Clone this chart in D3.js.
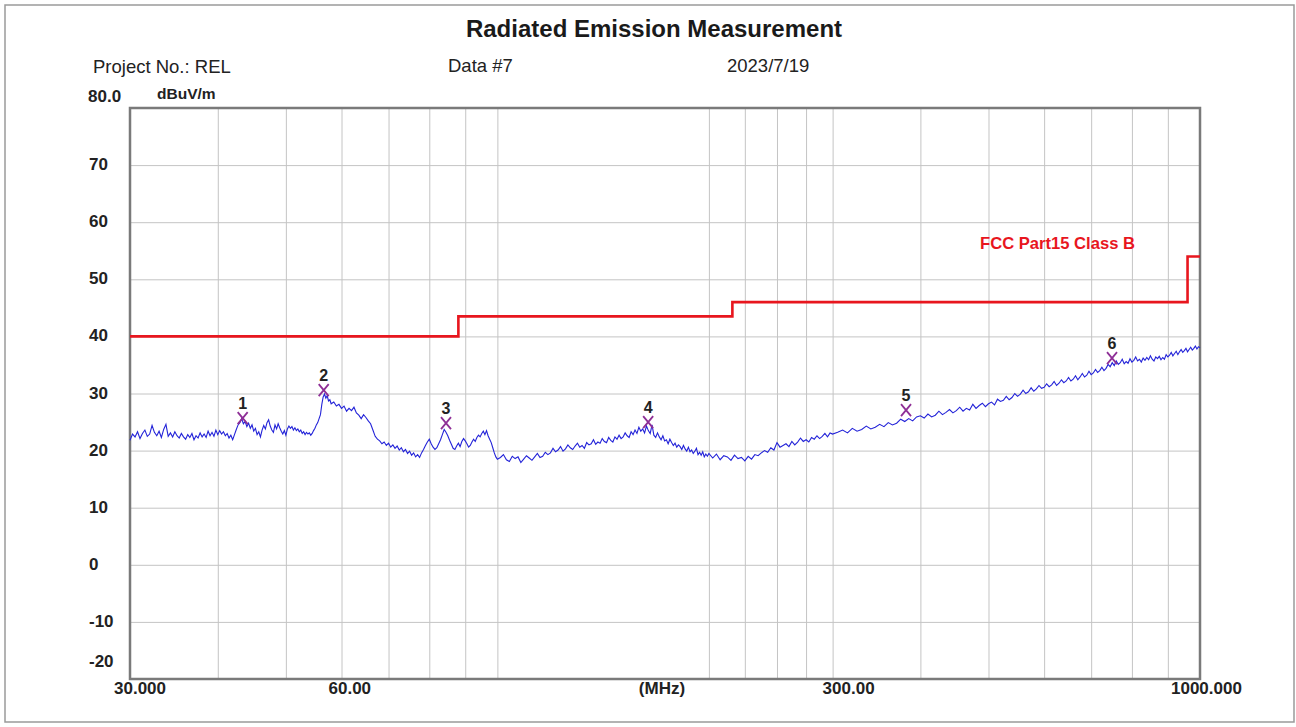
<!DOCTYPE html>
<html>
<head>
<meta charset="utf-8">
<script src="https://cdn.jsdelivr.net/npm/d3@7/dist/d3.min.js"></script>
<style>
html,body{margin:0;padding:0;background:#fff;}
svg{display:block;font-family:"Liberation Sans",Arial,sans-serif;}
</style>
</head>
<body>
<svg id="chart" width="1296" height="727"></svg>
<script>
// ---- data ----
const xTickLabels = [30, 60, 300, 1000];
const xTickText = ["30.000", "60.00", "300.00", "1000.000"];
const xGridValues = [40, 50, 60, 70, 80, 90, 100, 200, 225, 250, 275, 300, 400, 500, 600, 700, 800, 900];
const yTickValues = [70, 60, 50, 40, 30, 20, 10, 0, -10];
const yGridValues = [70, 60, 50, 40, 30, 20, 10, 0, -10];

const limitFreq = [30, 88, 216, 960, 1000];
const limitLevel = [40, 43.5, 46, 54, 54];

const markerFreq = [43.4, 56.6, 84.5, 163.9, 381.6, 749.5];
const markerLevel = [25.7, 30.6, 24.8, 25.0, 27.1, 36.2];
const markerLabel = ["1", "2", "3", "4", "5", "6"];

// measured trace [MHz, dBuV/m]
const trace = [
[30,21.8],[30.25,22.9],[30.5,22.4],[30.75,23.3],[31,22.1],[31.25,23.0],[31.5,23.6],[31.75,22.5],[32,22.9],[32.25,24.4],
[32.5,23.2],[32.75,22.6],[33,23.4],[33.25,22.3],[33.5,23.7],[33.75,24.6],[34,22.5],[34.25,23.1],[34.5,22.4],[34.75,23.3],
[35,22.6],[35.25,22.2],[35.5,23.0],[35.75,22.4],[36,22.0],[36.25,22.8],[36.5,22.3],[36.75,23.0],[37,21.9],[37.25,22.6],
[37.5,22.2],[37.75,23.1],[38,22.4],[38.25,22.9],[38.5,22.3],[38.75,23.4],[39,22.6],[39.25,23.2],[39.5,22.5],[39.75,23.6],
[40,22.8],[40.25,23.5],[40.5,22.9],[40.75,23.3],[41,22.6],[41.25,23.0],[41.5,22.2],[41.75,22.7],[42,21.9],[42.25,22.8],
[42.5,23.7],[42.75,24.5],[43,24.9],[43.25,25.6],[43.5,24.7],[43.75,25.1],[44,24.2],[44.25,24.8],[44.5,23.9],[44.75,24.5],
[45,23.4],[45.25,23.9],[45.5,22.8],[45.75,23.3],[46,22.4],[46.25,23.6],[46.5,24.4],[46.75,23.8],[47,24.9],[47.25,25.4],
[47.5,24.3],[47.75,23.6],[48,23.2],[48.25,24.5],[48.5,23.8],[48.75,24.7],[49,24.0],[49.25,23.4],[49.5,22.9],[49.75,23.5],
[50,22.7],[50.25,23.8],[50.5,24.3],[50.75,23.9],[51,24.2],[51.25,23.6],[51.5,24.0],[51.75,23.5],[52,23.8],[52.25,23.3],
[52.5,23.6],[52.75,23.0],[53,23.3],[53.25,22.8],[53.5,23.2],[53.75,22.9],[54,23.1],[54.25,22.7],[54.5,23.0],[54.75,23.5],
[55,23.9],[55.25,24.5],[55.5,24.9],[55.75,25.6],[56,26.3],[56.25,28.1],[56.5,29.4],[56.75,29.9],[57,29.2],[57.25,29.6],
[57.5,28.7],[57.75,28.9],[58,28.2],
[58.5,28.5],[59,27.8],[59.5,28.1],[60,27.4],[60.5,27.8],[61,26.9],[61.5,27.4],[62,27.0],[62.5,27.6],[63,26.6],
[63.5,26.2],[64,25.6],[64.5,26.3],[65,25.8],[65.5,25.2],[66,24.7],[66.5,23.6],[67,22.5],[67.5,22.0],[68,21.7],
[68.5,21.2],[69,21.5],[69.5,20.9],[70,21.3],[70.5,20.6],[71,21.0],[71.5,20.4],[72,20.8],[72.5,20.1],[73,20.5],
[73.5,19.8],[74,20.2],[74.5,19.5],[75,19.9],[75.5,19.2],[76,19.6],[76.5,18.9],[77,19.3],[77.5,18.8],[78,19.6],
[78.5,20.2],[79,20.9],[79.5,21.5],[80,22.0],[80.5,21.2],[81,20.6],[81.5,20.2],[82,20.5],[82.5,21.2],[83,21.9],
[83.5,22.8],[84,23.7],[84.5,23.2],[85,22.6],[85.5,21.8],[86,21.1],[86.5,20.4],[87,20.2],[87.5,20.8],[88,21.3],
[88.5,20.7],[89,21.6],[89.5,22.1],[90,21.7],[90.5,21.2],[91,20.6],[91.5,20.9],[92,21.5],[92.5,22.0],[93,21.6],
[93.5,22.3],[94,22.7],[94.5,22.4],[95,23.0],[95.5,23.4],[96,22.8],[96.5,23.5],[97,22.6],[97.5,22.0],[98,21.4],
[98.5,20.5],[99,19.6],[99.5,18.9],[100,18.5],
[101,18.8],[102,19.3],[103,18.4],[104,18.1],[105,19.0],[106,18.6],[107,18.9],[108,17.9],[109,18.5],[110,19.1],
[111,18.7],[112,18.3],[113,18.9],[114,19.5],[115,18.8],[116,19.0],[117,19.7],[118,19.3],[119,19.6],[120,20.4],
[121,19.8],[122,20.1],[123,20.7],[124,19.9],[125,20.3],[126,21.0],[127,20.5],[128,20.2],[129,20.8],[130,21.3],
[131,20.6],[132,20.9],[133,20.4],[134,21.4],[135,21.0],[136,21.2],[137,21.9],[138,21.1],[139,21.5],[140,21.3],
[141,22.1],[142,21.6],[143,21.4],[144,22.3],[145,21.8],[146,21.5],[147,22.4],[148,22.0],[149,22.7],[150,22.1],
[151,22.4],[152,23.1],[153,22.6],[154,22.3],[155,23.3],[156,22.8],[157,23.6],[158,23.0],[159,24.1],[160,23.4],
[161,23.8],[162,23.1],[163,24.3],[164,23.5],[165,23.0],[166,24.5],[167,22.7],[168,22.3],[169,23.1],[170,22.4],
[171,21.9],[172,22.6],[173,21.7],[174,21.9],[175,21.2],[176,22.0],[177,21.4],[178,20.9],[179,21.3],[180,20.6],
[181,21.0],[182,20.7],[183,20.2],[184,20.9],[185,20.3],[186,19.9],[187,20.6],[188,19.8],[189,20.1],[190,19.5],
[191,19.9],[192,20.4],[193,19.3],[194,19.7],[195,19.2],[196,19.8],[197,18.9],[198,19.4],[199,19.0],[200,19.5],
[202.5,18.7],[205,19.4],[207.5,18.4],[210,19.1],[212.5,18.9],[215,18.3],[217.5,19.2],[220,18.6],[222.5,18.8],[225,18.2],
[227.5,19.0],[230,18.5],[232.5,19.3],[235,19.1],[237.5,19.6],[240,20.0],[242.5,19.7],[245,20.5],[247.5,20.1],[250,21.4],
[252.5,20.6],[255,20.9],[257.5,21.2],[260,20.7],[262.5,21.6],[265,21.0],[267.5,21.5],[270,22.2],[272.5,21.6],[275,21.9],
[277.5,21.5],[280,22.3],[282.5,22.0],[285,22.6],[287.5,22.1],[290,22.5],[292.5,23.0],[295,22.4],[297.5,23.1],[300,22.9],
[305,23.2],[310,23.6],[315,23.1],[320,23.9],[325,23.4],[330,23.7],[335,24.3],[340,23.8],[345,24.1],[350,24.6],
[355,24.2],[360,24.9],[365,24.5],[370,24.8],[375,25.5],[380,25.1],[385,25.6],[390,25.2],[395,25.9],[400,26.1],
[405,25.7],[410,26.4],[415,25.9],[420,26.2],[425,26.9],[430,26.3],[435,26.7],[440,27.2],[445,26.6],[450,27.0],
[455,27.6],[460,26.9],[465,27.4],[470,27.1],[475,28.1],[480,27.4],[485,27.9],[490,28.3],[495,27.7],[500,28.2],
[505,28.5],[510,28.0],[515,29.0],[520,28.6],[525,28.8],[530,29.5],[535,28.9],[540,29.3],[545,30.0],[550,29.5],
[555,29.9],[560,30.6],[565,30.0],[570,30.3],[575,31.0],[580,30.4],[585,30.8],[590,31.4],[595,30.9],[600,31.1],
[605,31.7],[610,31.2],[615,31.5],[620,32.1],[625,31.4],[630,31.8],[635,32.4],[640,31.9],[645,32.2],[650,32.8],
[655,32.2],[660,32.5],[665,33.1],[670,32.4],[675,32.9],[680,33.5],[685,32.9],[690,33.2],[695,33.9],[700,33.3],
[705,33.6],[710,34.2],[715,33.7],[720,34.0],[725,34.6],[730,34.0],[735,34.4],[740,35.1],[745,34.7],[750,35.4],
[755,34.9],[760,35.7],[765,35.1],[770,35.4],[775,36.0],[780,35.2],[785,35.6],[790,35.3],[795,36.1],[800,35.5],
[805,35.8],[810,36.4],[815,35.7],[820,36.0],[825,35.5],[830,36.2],[835,35.8],[840,36.3],[845,35.9],[850,36.6],
[855,36.0],[860,35.7],[865,36.4],[870,36.1],[875,36.5],[880,35.9],[885,36.3],[890,36.0],[895,36.8],[900,36.4],
[905,36.7],[910,37.2],[915,36.6],[920,37.0],[925,37.4],[930,36.8],[935,37.3],[940,37.7],[945,37.2],[950,37.5],
[955,37.9],[960,37.3],[965,37.7],[970,38.1],[975,37.6],[980,37.9],[985,38.3],[990,37.8],[995,38.2],[1000,38.0]
];

// ---- layout ----
const svg = d3.select("#chart");
const L = 130, R = 1200, T = 108, B = 679;
const x = d3.scaleLog().domain([30, 1000]).range([L, R]);
const y = d3.scaleLinear().domain([-20, 80]).range([B, T]);

// page border
svg.append("rect").attr("x", 5).attr("y", 5).attr("width", 1289).attr("height", 717)
  .attr("fill", "none").attr("stroke", "#9a9a9a").attr("stroke-width", 1.5);

// titles
svg.append("text").attr("x", 654).attr("y", 37).attr("text-anchor", "middle")
  .attr("font-size", 24).attr("font-weight", "bold").attr("fill", "#1a1a1a")
  .text("Radiated Emission Measurement");
svg.append("text").attr("x", 93).attr("y", 73).attr("font-size", 18.5).attr("fill", "#222")
  .text("Project No.: REL");
svg.append("text").attr("x", 448).attr("y", 72).attr("font-size", 18.5).attr("fill", "#222")
  .text("Data #7");
svg.append("text").attr("x", 727).attr("y", 72).attr("font-size", 18.5).attr("fill", "#222")
  .text("2023/7/19");

// grid via axes
const gx = svg.append("g").attr("transform", `translate(0,${B})`)
  .call(d3.axisBottom(x).tickValues(xGridValues).tickSize(-(B - T)).tickFormat(""));
gx.select(".domain").remove();
gx.selectAll(".tick line").attr("stroke", "#c4c4c4").attr("stroke-width", 1);

const gy = svg.append("g").attr("transform", `translate(${L},0)`)
  .call(d3.axisLeft(y).tickValues(yGridValues).tickSize(-(R - L)).tickFormat(""));
gy.select(".domain").remove();
gy.selectAll(".tick line").attr("stroke", "#c4c4c4").attr("stroke-width", 1);

// frame
svg.append("rect").attr("x", L).attr("y", T).attr("width", R - L).attr("height", B - T)
  .attr("fill", "none").attr("stroke", "#7a7a7a").attr("stroke-width", 2.5);

// y tick labels
svg.append("g").selectAll("text").data(yTickValues).join("text")
  .attr("x", 89).attr("y", d => y(d) + 5)
  .attr("font-size", 17).attr("font-weight", "bold").attr("fill", "#222")
  .text(d => d);
svg.append("text").attr("x", 89).attr("y", y(-20) - 12)
  .attr("font-size", 17).attr("font-weight", "bold").attr("fill", "#222").text("-20");
svg.append("text").attr("x", 88).attr("y", y(80) - 6)
  .attr("font-size", 17).attr("font-weight", "bold").attr("fill", "#222").text("80.0");
svg.append("text").attr("x", 157).attr("y", y(80) - 9)
  .attr("font-size", 15.5).attr("font-weight", "bold").attr("fill", "#222").text("dBuV/m");

// x tick labels
const xDx = [-16, -13, -10, -29];
svg.append("g").selectAll("text").data(xTickLabels).join("text")
  .attr("x", (d, i) => x(d) + xDx[i]).attr("y", 694)
  .attr("font-size", 17).attr("font-weight", "bold").attr("fill", "#222")
  .text((d, i) => xTickText[i]);
svg.append("text").attr("x", (L + R) / 2 - 3).attr("y", 694).attr("text-anchor", "middle")
  .attr("font-size", 17).attr("font-weight", "bold").attr("fill", "#222").text("(MHz)");

// limit line
const limitPts = limitFreq.map((f, i) => [f, limitLevel[i]]);
svg.append("path").datum(limitPts)
  .attr("d", d3.line().x(d => x(d[0])).y(d => y(d[1])).curve(d3.curveStepAfter))
  .attr("fill", "none").attr("stroke", "#e8161e").attr("stroke-width", 2.6);
svg.append("text").attr("x", 980).attr("y", 249)
  .attr("font-size", 17).attr("font-weight", "bold").attr("fill", "#e8161e")
  .attr("textLength", 155).attr("lengthAdjust", "spacingAndGlyphs")
  .text("FCC Part15 Class B");

// trace
svg.append("path").datum(trace)
  .attr("d", d3.line().x(d => x(d[0])).y(d => y(d[1])))
  .attr("fill", "none").attr("stroke", "#2323d8").attr("stroke-width", 1.1);

// markers
const mk = svg.append("g").selectAll("g").data(markerFreq).join("g")
  .attr("transform", (d, i) => `translate(${x(d)},${y(markerLevel[i])})`);
mk.append("path").attr("d", "M-5,-6L5,6M-5,6L5,-6")
  .attr("stroke", "#8e2f96").attr("stroke-width", 1.8).attr("fill", "none");
mk.append("text").attr("y", -9).attr("text-anchor", "middle")
  .attr("font-size", 16).attr("font-weight", "bold").attr("fill", "#222")
  .text((d, i) => markerLabel[i]);
</script>
</body>
</html>
